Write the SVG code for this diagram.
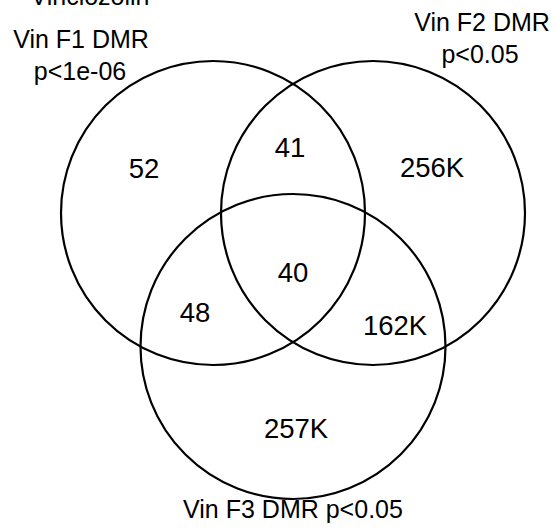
<svg xmlns="http://www.w3.org/2000/svg" width="555" height="532" viewBox="0 0 555 532">
<style>
.c{fill:none;stroke:#000;stroke-width:2.2}
.l{font-family:"Liberation Sans",Arial,sans-serif;font-size:25px;fill:#000;text-anchor:middle}
.n{font-family:"Liberation Sans",Arial,sans-serif;font-size:27.5px;fill:#000;text-anchor:middle}
</style>
<rect width="555" height="532" fill="#fff"/>
<g id="sets">
<circle id="setF1" class="c" cx="213" cy="213" r="152"/>
<circle id="setF2" class="c" cx="373" cy="213" r="152"/>
<circle id="setF3" class="c" cx="293" cy="346.5" r="152.5"/>
</g>
<g id="labels">
<text class="l" x="90" y="5">Vinclozolin</text>
<text class="l" x="81" y="48">Vin F1 DMR</text>
<text class="l" x="80" y="80">p&lt;1e-06</text>
<text class="l" x="482" y="31">Vin F2 DMR</text>
<text class="l" x="480" y="63">p&lt;0.05</text>
<text class="l" x="293" y="518">Vin F3 DMR p&lt;0.05</text>
</g>
<g id="counts">
<text class="n" x="144" y="178">52</text>
<text class="n" x="290" y="157">41</text>
<text class="n" x="432" y="177">256K</text>
<text class="n" x="293" y="282">40</text>
<text class="n" x="195" y="322">48</text>
<text class="n" x="395" y="335">162K</text>
<text class="n" x="296" y="438">257K</text>
</g>
</svg>
